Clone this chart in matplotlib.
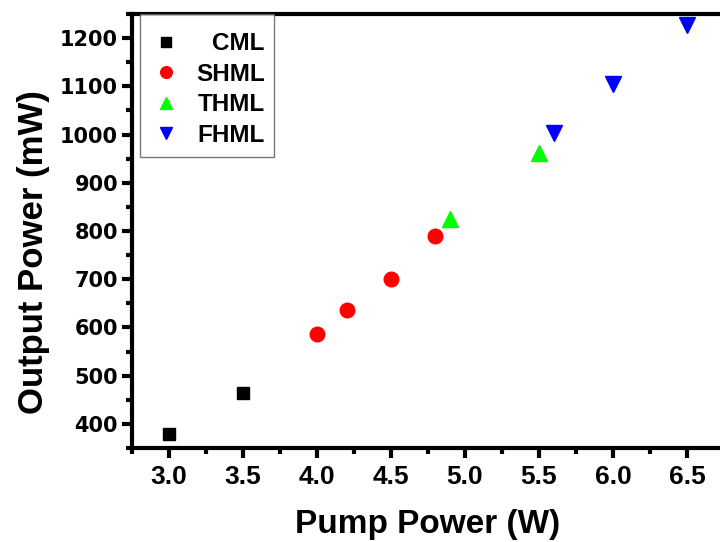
import matplotlib
matplotlib.use("Agg")
import matplotlib.pyplot as plt
from matplotlib.ticker import MultipleLocator, FormatStrFormatter

plt.rcParams['font.family'] = ['Liberation Sans', 'DejaVu Sans']
plt.rcParams['font.weight'] = 'bold'

cml_x = [3.0, 3.5]
cml_y = [379, 465]
shml_x = [4.0, 4.2, 4.5, 4.8]
shml_y = [586, 636, 701, 790]
thml_x = [4.9, 5.5]
thml_y = [824, 962]
fhml_x = [5.6, 6.0, 6.5]
fhml_y = [1004, 1104, 1228]

fig = plt.figure(figsize=(7.2, 5.42), dpi=100)
ax = fig.add_axes([132/720, 94/542, 592/720, 434/542])

ax.plot(cml_x, cml_y, 's', color='black', ms=9.3, ls='none', label='CML')
ax.plot(shml_x, shml_y, 'o', color='red', ms=10.5, ls='none', label='SHML')
ax.plot(thml_x, thml_y, '^', color='#00ff00', ms=11.5, ls='none', label='THML')
ax.plot(fhml_x, fhml_y, 'v', color='blue', ms=11.5, ls='none', label='FHML')

ax.set_xlim(2.75, 6.75)
ax.set_ylim(350, 1250)
ax.xaxis.set_major_locator(MultipleLocator(0.5))
ax.xaxis.set_minor_locator(MultipleLocator(0.25))
ax.yaxis.set_major_locator(MultipleLocator(100))
ax.yaxis.set_minor_locator(MultipleLocator(50))
ax.xaxis.set_major_formatter(FormatStrFormatter('%.1f'))

for s in ['left', 'bottom', 'top']:
    ax.spines[s].set_linewidth(3)
ax.spines['right'].set_visible(False)

ax.tick_params(which='major', direction='out', length=7, width=3)
ax.tick_params(which='minor', direction='out', length=4, width=3)
ax.tick_params(axis='x', which='major', labelsize=19, pad=5)
ax.tick_params(axis='y', which='major', labelsize=15, pad=3)
for lab in ax.get_xticklabels():
    lab.set_fontweight('bold')
for lab in ax.get_yticklabels():
    lab.set_fontweight('bold')
    lab.set_fontfamily('DejaVu Sans')

ax.set_xlabel('Pump Power (W)', fontsize=24, fontweight='bold', labelpad=15)
ax.set_ylabel('Output Power (mW)', fontsize=25, fontweight='bold')
ax.yaxis.set_label_coords(-0.1385, 0.4516)

leg = ax.legend(loc='upper left', bbox_to_anchor=(8/592, 1.0), frameon=True,
                fancybox=False, fontsize=17.5, handletextpad=0.6, borderpad=0.4,
                labelspacing=0.31, handlelength=1.3, borderaxespad=0,
                markerscale=0.8, title=' ', title_fontsize=1)
leg.get_frame().set_edgecolor('#555555')
leg.get_frame().set_linewidth(1.0)
for t in leg.get_texts():
    t.set_fontweight('bold')

fig.canvas.draw()
r = fig.canvas.get_renderer()
texts = leg.get_texts()
widths = [t.get_window_extent(r).width for t in texts]
wmax = max(widths)
for t, w in zip(texts, widths):
    t.set_position((wmax - w, 0))

fig.savefig('out.png', dpi=100)
